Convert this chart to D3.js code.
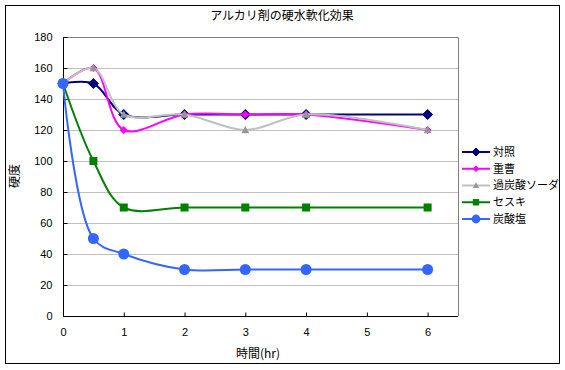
<!DOCTYPE html>
<html>
<head>
<meta charset="utf-8">
<script src="https://cdn.jsdelivr.net/npm/d3@7"></script>
<style>
  body { margin: 0; background: #fff; }
  svg { display: block; font-family: "Noto Sans CJK JP", sans-serif; }
  .axis text { font-size: 11px; fill: #000; }
  .axis path, .axis line { stroke: #000; }
</style>
</head>
<body>
<div id="chart"></div>
<script>
const hours = [0, 0.5, 1, 2, 3, 4, 6];
const seriesNames = ["対照", "重曹", "過炭酸ソーダ", "セスキ", "炭酸塩"];
const control = [150, 150, 130, 130, 130, 130, 130];
const bicarb = [150, 160, 120, 130, 130, 130, 120];
const percarb = [150, 160, 130, 130, 120, 130, 120];
const sesqui = [150, 100, 70, 70, 70, 70, 70];
const carbonate = [150, 50, 40, 30, 30, 30, 30];
const yTicks = [0, 20, 40, 60, 80, 100, 120, 140, 160, 180];
const xTicks = [0, 1, 2, 3, 4, 5, 6];

const styles = [
  { line: "#000080", fill: "#000080", stroke: "#000080", shape: "diamond", size: 10 },
  { line: "#ff00ff", fill: "#ff00ff", stroke: "#ff00ff", shape: "diamond", size: 7 },
  { line: "#c0c0c0", fill: "#969696", stroke: "#969696", shape: "triangle", size: 8 },
  { line: "#008000", fill: "#008000", stroke: "#008000", shape: "square", size: 8 },
  { line: "#3366ff", fill: "#3366ff", stroke: "#3366ff", shape: "circle", size: 11 }
];
const allSeries = [control, bicarb, percarb, sesqui, carbonate].map((vals, i) => ({
  name: seriesNames[i],
  values: vals.map((v, j) => ({ x: hours[j], y: v })),
  style: styles[i]
}));

const W = 565, H = 370;
const plot = { left: 63, top: 37, right: 458, bottom: 316 };

const svg = d3.select("#chart").append("svg")
  .attr("width", W).attr("height", H);

// outer frame
svg.append("rect")
  .attr("x", 5.5).attr("y", 5.5)
  .attr("width", 554).attr("height", 358)
  .attr("fill", "#fff").attr("stroke", "#000").attr("stroke-width", 1);

const x = d3.scaleLinear().domain([0, 6.5]).range([plot.left, plot.right]);
const y = d3.scaleLinear().domain([0, 180]).range([plot.bottom, plot.top]);

// gridlines
svg.append("g")
  .selectAll("line")
  .data(yTicks.filter(d => d > 0))
  .enter().append("line")
  .attr("x1", plot.left).attr("x2", plot.right)
  .attr("y1", d => Math.round(y(d)) + 0.5).attr("y2", d => Math.round(y(d)) + 0.5)
  .attr("stroke", "#c0c0c0");

// plot area border (top/right grey)
svg.append("path")
  .attr("d", `M${plot.left},${plot.top + 0.5}H${plot.right + 0.5}V${plot.bottom}`)
  .attr("fill", "none").attr("stroke", "#808080");

// Axes
svg.append("g")
  .attr("class", "axis")
  .attr("transform", `translate(0,${plot.bottom + 0.5})`)
  .call(d3.axisBottom(x).tickValues(xTicks).tickSize(-4).tickPadding(12).tickFormat(d3.format("d")))
  .call(g => g.select(".domain").attr("d", `M${plot.left},0H${plot.right}`));

svg.append("g")
  .attr("class", "axis")
  .attr("transform", `translate(${plot.left + 0.5},0)`)
  .call(d3.axisLeft(y).tickValues(yTicks).tickSize(-4).tickPadding(11))
  .call(g => g.select(".domain").attr("d", `M0,${plot.top}V${plot.bottom}`));

// Lines (smoothed like Excel)
const line = d3.line()
  .x(d => x(d.x))
  .y(d => y(d.y))
  .curve(d3.curveCatmullRom.alpha(0.5));

function marker(g, s, cx, cy) {
  const r = s.size / 2;
  if (s.shape === "diamond") {
    g.append("path")
      .attr("d", `M${cx},${cy - r}L${cx + r},${cy}L${cx},${cy + r}L${cx - r},${cy}Z`)
      .attr("fill", s.fill).attr("stroke", s.stroke);
  } else if (s.shape === "triangle") {
    g.append("path")
      .attr("d", `M${cx},${cy - r}L${cx + r},${cy + r * 0.8}L${cx - r},${cy + r * 0.8}Z`)
      .attr("fill", s.fill);
  } else if (s.shape === "square") {
    g.append("rect")
      .attr("x", cx - r).attr("y", cy - r)
      .attr("width", s.size).attr("height", s.size)
      .attr("fill", s.fill);
  } else {
    g.append("circle")
      .attr("cx", cx).attr("cy", cy).attr("r", r)
      .attr("fill", s.fill);
  }
}

allSeries.forEach(ser => {
  const g = svg.append("g");
  g.append("path")
    .datum(ser.values)
    .attr("fill", "none")
    .attr("stroke", ser.style.line)
    .attr("stroke-width", 2)
    .attr("d", line);
  ser.values.forEach(d => marker(g, ser.style, x(d.x), y(d.y)));
});

// Legend
const legend = svg.append("g");
const legendY = d3.scalePoint().domain(seriesNames).range([152, 219]);
allSeries.forEach(ser => {
  const ly = legendY(ser.name);
  legend.append("line")
    .attr("x1", 462).attr("x2", 490)
    .attr("y1", ly).attr("y2", ly)
    .attr("stroke", ser.style.line).attr("stroke-width", 2);
  marker(legend, Object.assign({}, ser.style, { size: ser.style.size * 0.8 }), 476, ly);
  legend.append("text")
    .attr("x", 493).attr("y", ly)
    .attr("dy", "0.35em")
    .attr("font-size", 11)
    .text(ser.name);
});

// Titles
svg.append("text")
  .attr("x", 282).attr("y", 20)
  .attr("text-anchor", "middle")
  .attr("font-size", 12)
  .text("アルカリ剤の硬水軟化効果");

svg.append("text")
  .attr("x", 258).attr("y", 358)
  .attr("text-anchor", "middle")
  .attr("font-size", 12)
  .text("時間(hr)");

svg.append("text")
  .attr("transform", "translate(19,176) rotate(-90)")
  .attr("text-anchor", "middle")
  .attr("font-size", 12)
  .text("硬度");
</script>
</body>
</html>
